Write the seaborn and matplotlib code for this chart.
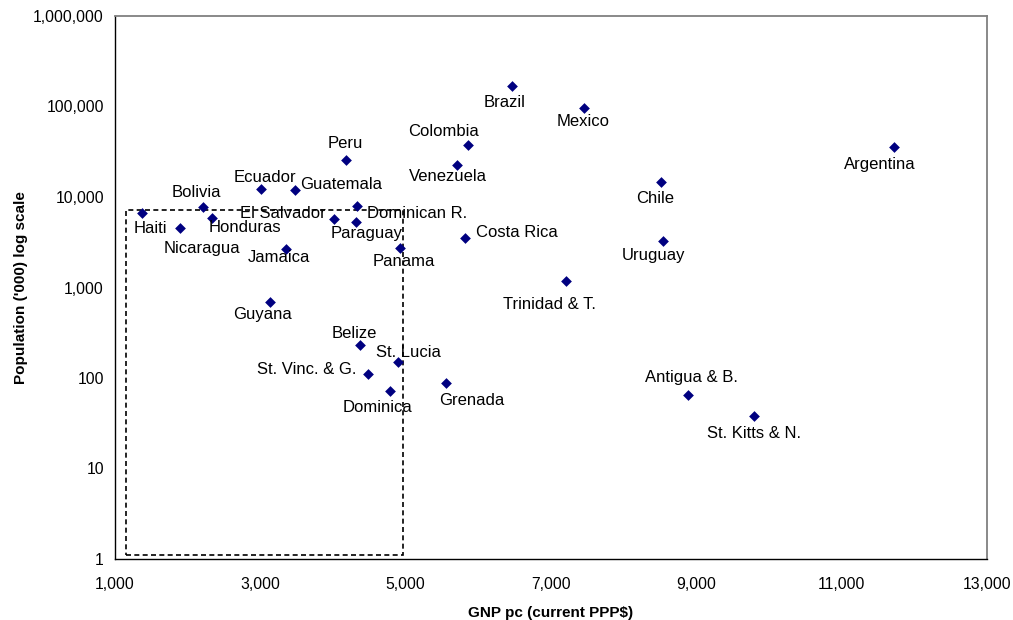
import matplotlib
matplotlib.use("Agg")
import matplotlib.pyplot as plt
import seaborn as sns
import pandas as pd
from matplotlib.ticker import FuncFormatter, FixedLocator
from matplotlib.patches import Rectangle

countries = ["Haiti", "Nicaragua", "Bolivia", "Honduras", "Ecuador", "Guatemala", "Peru",
             "El Salvador", "Dominican R.", "Paraguay", "Jamaica", "Panama", "Guyana", "Belize",
             "St. Lucia", "St. Vinc. & G.", "Dominica", "Grenada", "Brazil", "Mexico", "Colombia",
             "Venezuela", "Chile", "Costa Rica", "Uruguay", "Trinidad & T.", "Argentina",
             "Antigua & B.", "St. Kitts & N."]
gnp_pc = [1376, 1894, 2207, 2339, 3005, 3477, 4179,
          4014, 4335, 4312, 3349, 4922, 3137, 4371,
          4899, 4486, 4780, 5559, 6463, 7449, 5858,
          5706, 8513, 5816, 8537, 7206, 11724,
          8889, 9789]
population = [6575, 4487, 7712, 5877, 12190, 11800, 25480,
              5785, 7977, 5270, 2632, 2700, 684, 231,
              149, 111, 71.7, 87.2, 168600, 96400, 37300,
              22450, 14560, 3535, 3227, 1167, 35740,
              64.2, 38.3]

box_x = [1150, 4970]
box_y = [1.1, 7100]

x_ticks = [1000, 3000, 5000, 7000, 9000, 11000, 13000]
y_ticks = [1, 10, 100, 1000, 10000, 100000, 1000000]

# label offsets in pixels (dx right, dy down)
label_offsets = {
    "Haiti": (8, 15), "Nicaragua": (22, 20), "Bolivia": (-6, -15), "Honduras": (33, 10),
    "Ecuador": (4, -12), "Guatemala": (46, -6), "Peru": (-1, -17), "El Salvador": (-51, -5),
    "Dominican R.": (60, 8), "Paraguay": (11, 11), "Jamaica": (-7, 8), "Panama": (4, 13),
    "Guyana": (-8, 12), "Belize": (-6, -12), "St. Lucia": (10, -10), "St. Vinc. & G.": (-62, -4),
    "Dominica": (-12, 16), "Grenada": (25, 17), "Brazil": (-7, 17), "Mexico": (-1, 14),
    "Colombia": (-25, -14), "Venezuela": (-9, 11), "Chile": (-6, 16), "Costa Rica": (52, -5),
    "Uruguay": (-9, 14), "Trinidad & T.": (-17, 23), "Argentina": (-14, 18),
    "Antigua & B.": (3, -18), "St. Kitts & N.": (0, 18),
}

df = pd.DataFrame({"country": countries, "gnp": gnp_pc, "pop": population})

sns.set_style("white")
plt.rcParams["font.family"] = ["Liberation Sans", "DejaVu Sans"]
plt.rcParams["text.color"] = "black"
plt.rcParams["axes.labelcolor"] = "black"
plt.rcParams["xtick.color"] = "black"
plt.rcParams["ytick.color"] = "black"

fig = plt.figure(figsize=(10.13, 6.2), dpi=100)
ax = fig.add_axes([115/1013, 1-559/620, (987-115)/1013, (559-16)/620])

sns.scatterplot(data=df, x="gnp", y="pop", marker="D", color="#000080", s=30,
                linewidth=0, ax=ax, zorder=3)

ax.set_yscale("log")
ax.set_xlim(x_ticks[0], x_ticks[-1])
ax.set_ylim(y_ticks[0], y_ticks[-1])
ax.xaxis.set_major_locator(FixedLocator(x_ticks))
ax.yaxis.set_major_locator(FixedLocator(y_ticks))
ax.yaxis.set_minor_locator(FixedLocator([]))
fmt = FuncFormatter(lambda v, p: f"{v:,.0f}")
ax.xaxis.set_major_formatter(fmt)
ax.yaxis.set_major_formatter(fmt)
ax.tick_params(axis="both", which="major", direction="out", length=4, width=1,
               color="black", labelcolor="black", labelsize=11.3, pad=4)
ax.tick_params(axis="x", pad=9)

for side in ["left", "bottom"]:
    ax.spines[side].set_color("black")
    ax.spines[side].set_linewidth(1.0)
for side in ["top", "right"]:
    ax.spines[side].set_color("#808080")
    ax.spines[side].set_linewidth(1.3)

ax.set_xlabel("GNP pc (current PPP$)", fontsize=11, fontweight="bold", labelpad=10, color="black")
ax.set_ylabel("Population ('000) log scale", fontsize=11, fontweight="bold", labelpad=4, color="black")

ax.add_patch(Rectangle((box_x[0], box_y[0]), box_x[1]-box_x[0], box_y[1]-box_y[0],
                       fill=False, edgecolor="black", linewidth=1.2,
                       linestyle=(0, (3, 2)), zorder=2))

for c, x, y in zip(countries, gnp_pc, population):
    dx, dy = label_offsets[c]
    ax.annotate(c, (x, y), xytext=(dx, -dy), textcoords="offset pixels",
                ha="center", va="center", fontsize=12, color="black", zorder=4)

fig.savefig("out.png", dpi=100)
